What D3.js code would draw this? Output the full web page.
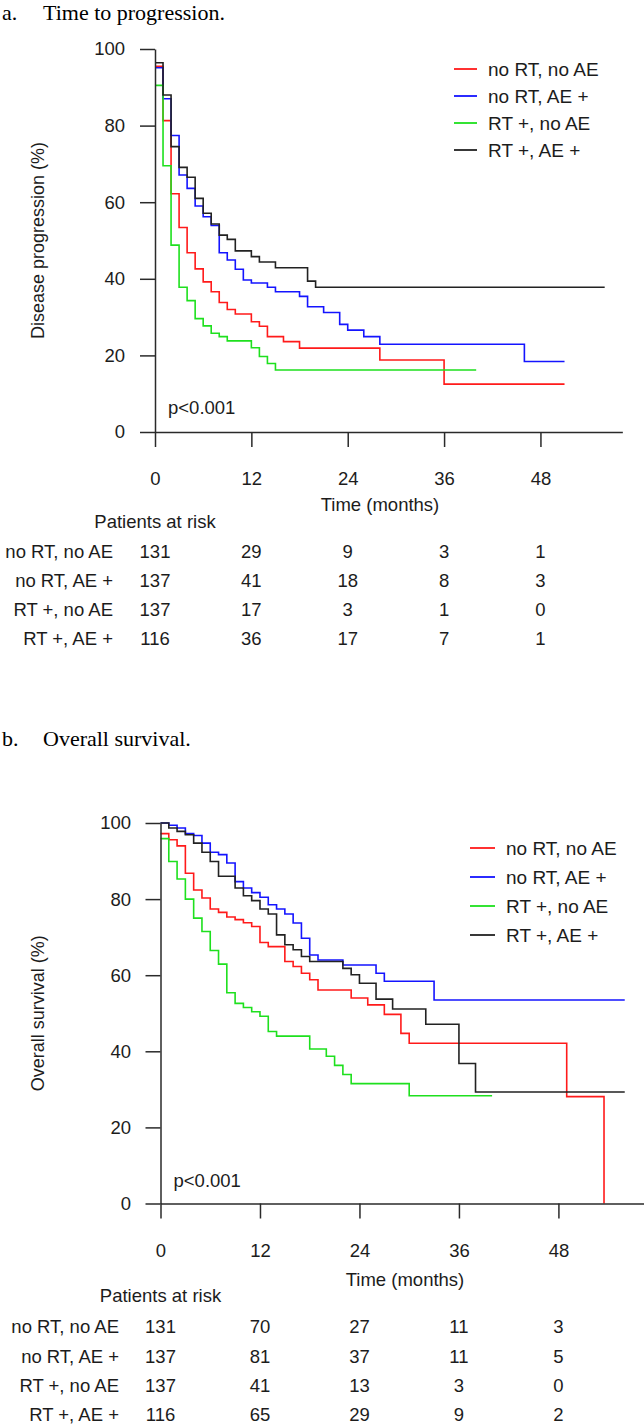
<!DOCTYPE html>
<html>
<head>
<meta charset="utf-8">
<script src="https://cdn.jsdelivr.net/npm/d3@7"></script>
<style>
  html, body { margin: 0; padding: 0; background: #fff; }
  svg { display: block; }
</style>
</head>
<body>
<svg id="fig" width="644" height="1427"></svg>
<script>
// ---- data ----
const groups = ["no RT, no AE", "no RT, AE +", "RT +, no AE", "RT +, AE +"];
const timeTicks = [0, 12, 24, 36, 48];
const pctTicks = [0, 20, 40, 60, 80, 100];

// a. time to progression, [month, %]
const ttpNoRtNoAe = [[0,95.5],[1,81.3],[2,62.2],[3,53.4],[4,46.8],[5,42.6],[6,39.2],[7,36.6],[8,33.8],[9,32.0],[10,30.8],[12,28.8],[13,27.6],[14,24.9],[16,23.6],[18,21.9],[28,18.8],[36,12.5],[51,12.5]];
const ttpNoRtAe = [[0,95.1],[1,87.0],[2,77.4],[3,67.1],[4,63.6],[5,59.0],[6,56.2],[7,53.9],[8,46.8],[9,44.9],[10,42.5],[11,39.7],[12,38.9],[14,37.8],[15,36.6],[18,35.4],[19,32.7],[21,31.2],[23,28.1],[24,26.6],[26,24.9],[28,22.9],[46,18.4],[51,18.4]];
const ttpRtNoAe = [[0,90.5],[1,69.5],[2,48.8],[3,37.8],[4,34.3],[5,29.6],[6,27.7],[7,25.8],[8,24.9],[9,23.8],[12,22.0],[13,19.7],[14,17.9],[15,16.2],[40,16.2]];
const ttpRtAe = [[0,96.4],[1,88.0],[2,74.5],[3,69.1],[4,66.5],[5,61.0],[6,57.1],[7,54.3],[8,51.4],[9,50.3],[10,47.3],[12,45.8],[13,44.4],[15,42.9],[19,39.4],[20,37.8],[56,37.8]];
const ttpAtRisk = [[131,29,9,3,1],[137,41,18,8,3],[137,17,3,1,0],[116,36,17,7,1]];

// b. overall survival, [month, %]
const osNoRtNoAe = [[0,97.2],[1,95.6],[2,94.0],[3,86.8],[4,82.4],[5,80.3],[6,77.4],[7,76.5],[8,75.3],[9,74.6],[10,73.8],[11,72.8],[12,68.6],[13,67.5],[15,63.6],[16,62.3],[17,60.5],[18,58.8],[19,56.1],[23,54.0],[25,52.2],[27,49.7],[29,44.7],[30,42.1],[49,28.1],[53.5,0]];
const osNoRtAe = [[0,100],[1,99.4],[2,98.7],[3,97.2],[4,96.7],[5,94.7],[6,92.3],[7,91.7],[8,89.5],[9,84.6],[10,82.9],[11,81.7],[12,80.5],[13,78.5],[14,77.4],[15,76.1],[16,73.7],[17,69.7],[18,65.3],[19,64.0],[22,62.7],[26,60.5],[27,58.4],[33,53.5],[56,53.5]];
const osRtNoAe = [[0,95.9],[1,89.9],[2,85.3],[3,80.0],[4,75.0],[5,71.5],[6,66.5],[7,62.9],[8,55.4],[9,52.6],[10,51.5],[11,50.4],[12,49.2],[13,45.2],[14,44.0],[18,40.6],[20,38.7],[21,36.3],[22,33.9],[23,31.5],[30,28.3],[40,28.3]];
const osRtAe = [[0,100],[1,98.7],[2,97.8],[3,96.9],[4,94.7],[5,92.3],[6,89.9],[7,86.0],[9,82.9],[10,80.9],[11,79.6],[12,77.4],[13,76.1],[14,70.6],[15,68.0],[16,66.7],[17,64.9],[18,63.6],[22,61.8],[23,60.1],[24,57.9],[26,53.7],[28,51.1],[32,47.1],[36,36.8],[38,29.3],[56,29.3]];
const osAtRisk = [[131,70,27,11,3],[137,81,37,11,5],[137,41,13,3,0],[116,65,29,9,2]];

// ---- styles ----
const groupColors = ["#ff1a1a", "#1414ff", "#1ee01e", "#222222"];
const sans = "'Liberation Sans', Arial, sans-serif";
const serif = "'Liberation Serif', 'Times New Roman', serif";
const ink = "#1c1c1c";

const svg = d3.select("#fig");

const panels = [
  { letter: "a.", title: "Time to progression.", titleY: 20,
    yLabel: "Disease progression (%)",
    curves: [ttpNoRtNoAe, ttpNoRtAe, ttpRtNoAe, ttpRtAe], atRisk: ttpAtRisk,
    x0: 155, pxPerMonth: 8.03, xMax: 58.2, y0: 432, y100: 49, yPad: 15,
    legendX: 454, legendY: 69, legendGap: 27, legendLen: 23,
    timeLabelX: 380, timeLabelY: 505, riskTitleY: 522,
    rowLabelX: 113, rowY: 552, rowGap: 28.7, pY: 408 },
  { letter: "b.", title: "Overall survival.", titleY: 746,
    yLabel: "Overall survival (%)",
    curves: [osNoRtNoAe, osNoRtAe, osRtNoAe, osRtAe], atRisk: osAtRisk,
    x0: 160.5, pxPerMonth: 8.29, xMax: 58.3, y0: 1203.5, y100: 823, yPad: 14.5,
    legendX: 470, legendY: 848, legendGap: 29, legendLen: 25,
    timeLabelX: 405, timeLabelY: 1280, riskTitleY: 1296,
    rowLabelX: 119, rowY: 1327, rowGap: 29.3, pY: 1181 }
];

function drawPanel(p) {
  const g = svg.append("g");
  const x = d3.scaleLinear().domain([0, p.xMax]).range([p.x0, p.x0 + p.xMax * p.pxPerMonth]);
  const y = d3.scaleLinear().domain([0, 100]).range([p.y0, p.y100]);

  // heading
  g.append("text").attr("x", 2).attr("y", p.titleY)
    .attr("font-family", serif).attr("font-size", 22).attr("fill", "#000").text(p.letter);
  g.append("text").attr("x", 43).attr("y", p.titleY)
    .attr("font-family", serif).attr("font-size", 22).attr("fill", "#000").text(p.title);

  // curves
  const line = d3.line().x(d => x(d[0])).y(d => y(d[1])).curve(d3.curveStepAfter);
  p.curves.forEach((c, i) => {
    g.append("path").datum(c).attr("d", line)
      .attr("fill", "none").attr("stroke", groupColors[i]).attr("stroke-width", 1.6);
  });

  // axes
  const yAxis = g.append("g").attr("transform", `translate(${p.x0},0)`)
    .call(d3.axisLeft(y).tickValues(pctTicks).tickSize(15).tickSizeOuter(0).tickPadding(p.yPad));
  const xAxis = g.append("g").attr("transform", `translate(0,${p.y0})`)
    .call(d3.axisBottom(x).tickValues(timeTicks).tickSize(15).tickSizeOuter(0).tickPadding(25));
  [yAxis, xAxis].forEach(a => {
    a.selectAll("path, line").attr("stroke", "#2a2a2a").attr("stroke-width", 1.5);
    a.selectAll("text").attr("font-family", sans).attr("font-size", 18.5).attr("fill", ink);
  });

  // axis titles
  g.append("text")
    .attr("transform", `translate(38,${(p.y0 + p.y100) / 2}) rotate(-90)`)
    .attr("text-anchor", "middle").attr("dy", "0.35em")
    .attr("font-family", sans).attr("font-size", 18).attr("fill", ink).text(p.yLabel);
  g.append("text").attr("x", p.timeLabelX).attr("y", p.timeLabelY).attr("dy", "0.35em")
    .attr("text-anchor", "middle").attr("font-family", sans).attr("font-size", 18.5)
    .attr("fill", ink).text("Time (months)");

  // p value
  g.append("text").attr("x", x(0) + 13).attr("y", p.pY).attr("dy", "0.35em")
    .attr("font-family", sans).attr("font-size", 18.5).attr("fill", ink).text("p<0.001");

  // legend
  groups.forEach((name, i) => {
    const ly = p.legendY + i * p.legendGap;
    g.append("line").attr("x1", p.legendX).attr("x2", p.legendX + p.legendLen)
      .attr("y1", ly).attr("y2", ly).attr("stroke", groupColors[i]).attr("stroke-width", 1.8);
    g.append("text").attr("x", p.legendX + p.legendLen + 11).attr("y", ly).attr("dy", "0.35em")
      .attr("font-family", sans).attr("font-size", 19).attr("fill", ink).text(name);
  });

  // patients at risk table
  g.append("text").attr("x", x(0)).attr("y", p.riskTitleY).attr("dy", "0.35em")
    .attr("text-anchor", "middle").attr("font-family", sans).attr("font-size", 18.5)
    .attr("fill", ink).text("Patients at risk");
  p.atRisk.forEach((row, i) => {
    const ry = p.rowY + i * p.rowGap;
    g.append("text").attr("x", p.rowLabelX).attr("y", ry).attr("dy", "0.35em")
      .attr("text-anchor", "end").attr("font-family", sans).attr("font-size", 18.5)
      .attr("fill", ink).text(groups[i]);
    g.selectAll(null).data(row).join("text")
      .attr("x", (d, j) => x(timeTicks[j])).attr("y", ry).attr("dy", "0.35em")
      .attr("text-anchor", "middle").attr("font-family", sans).attr("font-size", 18.5)
      .attr("fill", ink).text(d => d);
  });
}

panels.forEach(drawPanel);
</script>
</body>
</html>
